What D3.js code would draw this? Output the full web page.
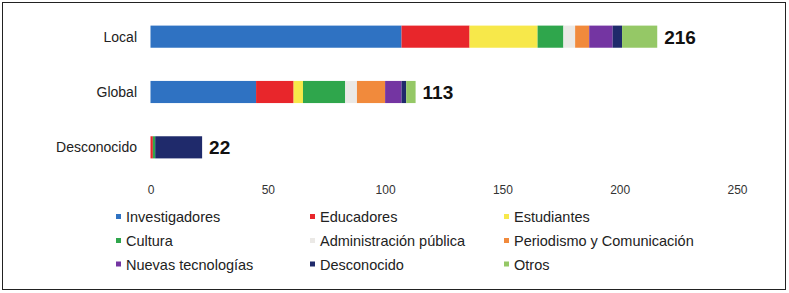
<!DOCTYPE html>
<html>
<head>
<meta charset="utf-8">
<script src="https://cdn.jsdelivr.net/npm/d3@7"></script>
<style>
  body { margin: 0; background: #fff; }
  svg { display: block; font-family: "Liberation Sans", Arial, sans-serif; }
</style>
</head>
<body>
<div id="chart"></div>
<script>
// Stacked horizontal bars - perfiles por ámbito

const categories = ["Local", "Global", "Desconocido"];
const series = ["Investigadores", "Educadores", "Estudiantes", "Cultura", "Administración pública",
  "Periodismo y Comunicación", "Nuevas tecnologías", "Desconocido", "Otros"];
const colors = ["#2f72c2", "#e8262b", "#f7e84a", "#2fa64c", "#ebe9e6", "#f18a3c", "#7435a2", "#1f2a6b", "#95c866"];

// one array per category, in series order
const localValues = [107, 29, 29, 11, 5, 6, 10, 4, 15];
const globalValues = [45, 16, 4, 18, 5, 12, 7, 2, 4];
const desconocidoValues = [0, 1, 0, 1, 0, 0, 0, 20, 0];
const totals = [216, 113, 22];
const xTicks = [0, 50, 100, 150, 200, 250];

const width = 789, height = 293;

const svg = d3.select("#chart").append("svg")
  .attr("width", width)
  .attr("height", height);

svg.append("rect")
  .attr("x", 2.5).attr("y", 2.5)
  .attr("width", 783).attr("height", 287)
  .attr("fill", "#fff")
  .attr("stroke", "#222")
  .attr("stroke-width", 1);

const x = d3.scaleLinear().domain([0, 250]).range([150.5, 737]);
const y = d3.scaleBand().domain(categories).range([9, 175]).paddingInner(0.6).paddingOuter(0.3);

const rows = [localValues, globalValues, desconocidoValues].map((vals, i) => {
  const r = { cat: categories[i] };
  series.forEach((s, j) => r[s] = vals[j]);
  return r;
});

const stacked = d3.stack().keys(series)(rows);

svg.append("g").selectAll("g")
  .data(stacked)
  .join("g")
  .attr("fill", (d, i) => colors[i])
  .selectAll("rect")
  .data(d => d)
  .join("rect")
  .attr("x", d => x(d[0]))
  .attr("y", d => y(d.data.cat))
  .attr("width", d => x(d[1]) - x(d[0]))
  .attr("height", y.bandwidth());

// category labels
svg.append("g").selectAll("text")
  .data(categories)
  .join("text")
  .attr("x", 137)
  .attr("y", d => y(d) + y.bandwidth() / 2)
  .attr("dy", "0.35em")
  .attr("text-anchor", "end")
  .attr("font-size", 14)
  .attr("fill", "#222")
  .text(d => d);

// totals
svg.append("g").selectAll("text")
  .data(categories)
  .join("text")
  .attr("x", (d, i) => x(totals[i]) + 7)
  .attr("y", d => y(d) + y.bandwidth() / 2)
  .attr("dy", "0.36em")
  .attr("font-size", 19)
  .attr("font-weight", "bold")
  .attr("fill", "#111")
  .text((d, i) => totals[i]);

// x axis, labels only
const xAxis = svg.append("g")
  .attr("transform", "translate(0,185)")
  .call(d3.axisBottom(x).tickValues(xTicks).tickSize(0).tickPadding(0));
xAxis.select(".domain").remove();
xAxis.selectAll("text")
  .attr("font-size", 12)
  .attr("font-family", "'Liberation Sans Narrow', 'Liberation Sans', Arial, sans-serif")
  .attr("fill", "#333");

// legend, 3 columns
const legCols = [116, 310, 504];
const legRows = [217, 241, 264.5];
const legend = svg.append("g").selectAll("g")
  .data(series)
  .join("g")
  .attr("transform", (d, i) => `translate(${legCols[i % 3]}, ${legRows[Math.floor(i / 3)]})`);

legend.append("rect")
  .attr("x", 0).attr("y", -3)
  .attr("width", 5).attr("height", 5)
  .attr("fill", (d, i) => colors[i]);

legend.append("text")
  .attr("x", 10)
  .attr("dy", "0.35em")
  .attr("font-size", 14.5)
  .attr("fill", "#222")
  .text(d => d);
</script>
</body>
</html>
